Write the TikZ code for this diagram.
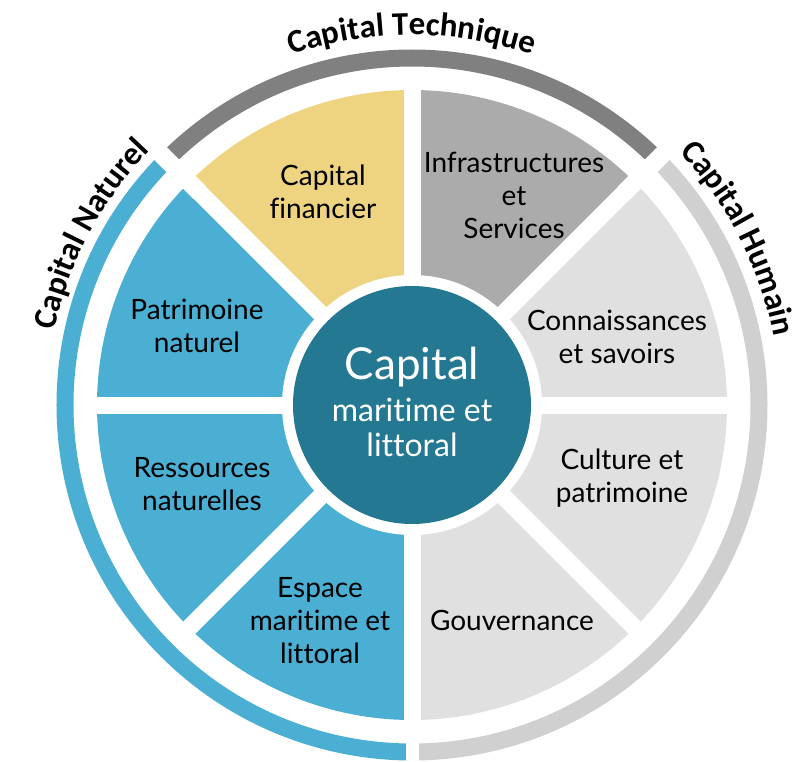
\documentclass[tikz,border=0pt]{standalone}
\usepackage{fontspec}
\setmainfont{Lato}[Ligatures=NoCommon]
\newfontfamily\capfont{Carlito}
\usetikzlibrary{decorations.text}
\definecolor{segblue}{HTML}{4BAFD3}
\definecolor{segyellow}{HTML}{EED480}
\definecolor{segdark}{HTML}{ABABAB}
\definecolor{seglight}{HTML}{E0E0E0}
\definecolor{arcdark}{HTML}{808080}
\definecolor{arclight}{HTML}{D0D0D0}
\definecolor{coreteal}{HTML}{247892}
\begin{document}
\begin{tikzpicture}[x=1pt,y=1pt,
  seglabel/.style={align=center, font=\fontsize{28}{33}\selectfont, text=black, inner sep=0pt},
  gapline/.style={white, line width=17pt},
  ringarc/.style={line width=17pt},
  curvedlabel/.style={decorate, decoration={text along path, text align=center,
      text={|\capfont\bfseries\fontsize{33}{33}\selectfont|#1}}}
]
\useasboundingbox (-412,-356) rectangle (396,405);
% sectors
\foreach \a/\c in {0/seglight, 45/segdark, 90/segyellow, 135/segblue, 180/segblue, 225/segblue, 270/seglight, 315/seglight}
  \fill[\c] (0,0) -- (\a:315) arc[start angle=\a, delta angle=45, radius=315] -- cycle;
% outer rings
\draw[ringarc, arcdark] (45:347) arc[start angle=45, end angle=135, radius=347];
\draw[ringarc, segblue] (135:347) arc[start angle=135, end angle=270, radius=347];
\draw[ringarc, arclight] (-90:347) arc[start angle=-90, end angle=45, radius=347];
% gaps
\foreach \a in {0,45,...,315} \draw[gapline] (0,0) -- (\a:322);
\draw[white, line width=18pt] (45:300) -- (45:372);
\draw[white, line width=18pt] (135:300) -- (135:372);
\draw[white, line width=13pt] (270:300) -- (270:372);
% core
\fill[white] (0,0) circle[radius=130];
\fill[coreteal] (0,0) circle[radius=119];
\node[align=center, text=white, inner sep=0pt, font=\fontsize{32}{35}\selectfont] (core) at (0,3)
  {{\fontsize{44}{44}\selectfont Capital}\\[7pt]maritime et\\littoral};
% segment labels
\node[seglabel] (financier) at (-89,213) {Capital\\financier};
\node[seglabel] (infra) at (102,210) {Infrastructures\\et\\Services};
\node[seglabel] (patrimoine) at (-215,79) {Patrimoine\\naturel};
\node[seglabel] (savoirs) at (205,68.5) {Connaissances\\et savoirs};
\node[seglabel] (ressources) at (-210,-79.5) {Ressources\\naturelles};
\node[seglabel] (culture) at (210,-73) {Culture et\\patrimoine};
\node[seglabel] (espace) at (-92,-215.5) {Espace\\maritime et\\littoral};
\node[seglabel] (gouvernance) at (100,-215) {Gouvernance};
% curved titles
\path[curvedlabel={Capital Technique}] (135:370) arc[start angle=135, end angle=45, radius=370];
\path[curvedlabel={Capital Naturel}] (200:365) arc[start angle=200, end angle=104, radius=365];
\path[curvedlabel={Capital Humain}] (75:368) arc[start angle=75, end angle=-21, radius=368];
\end{tikzpicture}
\end{document}
